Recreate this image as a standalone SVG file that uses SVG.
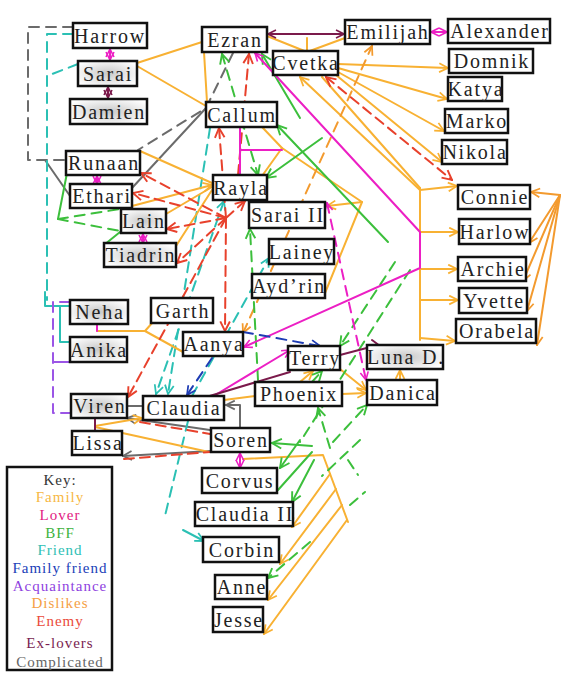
<svg xmlns="http://www.w3.org/2000/svg" width="572" height="680" viewBox="0 0 572 680">
<style>
.n rect{fill:#fff;stroke:#111;stroke-width:2.5}
.n.s rect{fill:url(#shade)}
.n text{font-family:"Liberation Serif","DejaVu Serif",serif;font-size:20px;letter-spacing:1.8px;fill:#222;text-anchor:middle}
#connectors path{fill:none;stroke-width:2;stroke-linecap:round;stroke-linejoin:round}
.or{stroke:#F8B133}
.dl{stroke:#F39A2E}
.rd{stroke:#E8412C;stroke-dasharray:10 6}
.mg{stroke:#EC1FC4}
.mr{stroke:#7B1A4B}
.gr{stroke:#3CBF3C}
.tl{stroke:#2BC0B4}
.bl{stroke:#1E3CB4}
.pu{stroke:#9B55E6}
.gy{stroke:#6B6B6B}
.d{stroke-dasharray:10 7}
.k{font-family:"Liberation Serif","DejaVu Serif",serif;font-size:15px;letter-spacing:1px;text-anchor:middle}
</style>
<defs>
<radialGradient id="shade" cx="0.5" cy="0.5" r="0.6">
<stop offset="0" stop-color="#c8c8c8"/><stop offset="1" stop-color="#fff"/>
</radialGradient>
<marker id="m-or" viewBox="0 0 10 10" refX="9" refY="5" markerWidth="11" markerHeight="11" markerUnits="userSpaceOnUse" orient="auto-start-reverse"><path d="M1,1 L9,5 L1,9" fill="none" stroke="#F8B133" stroke-width="1.6"/></marker>
<marker id="m-dl" viewBox="0 0 10 10" refX="9" refY="5" markerWidth="11" markerHeight="11" markerUnits="userSpaceOnUse" orient="auto-start-reverse"><path d="M1,1 L9,5 L1,9" fill="none" stroke="#F39A2E" stroke-width="1.6"/></marker>
<marker id="m-rd" viewBox="0 0 10 10" refX="9" refY="5" markerWidth="12" markerHeight="12" markerUnits="userSpaceOnUse" orient="auto-start-reverse"><path d="M1,1 L9,5 L1,9" fill="none" stroke="#E8412C" stroke-width="1.6"/></marker>
<marker id="m-mg" viewBox="0 0 10 10" refX="9" refY="5" markerWidth="10" markerHeight="10" markerUnits="userSpaceOnUse" orient="auto-start-reverse"><path d="M1,1 L9,5 L1,9" fill="none" stroke="#EC1FC4" stroke-width="1.6"/></marker>
<marker id="m-mr" viewBox="0 0 10 10" refX="9" refY="5" markerWidth="10" markerHeight="10" markerUnits="userSpaceOnUse" orient="auto-start-reverse"><path d="M1,1 L9,5 L1,9" fill="none" stroke="#7B1A4B" stroke-width="1.6"/></marker>
<marker id="m-gr" viewBox="0 0 10 10" refX="9" refY="5" markerWidth="12" markerHeight="12" markerUnits="userSpaceOnUse" orient="auto-start-reverse"><path d="M1,1 L9,5 L1,9" fill="none" stroke="#3CBF3C" stroke-width="1.6"/></marker>
<marker id="m-tl" viewBox="0 0 10 10" refX="9" refY="5" markerWidth="11" markerHeight="11" markerUnits="userSpaceOnUse" orient="auto-start-reverse"><path d="M1,1 L9,5 L1,9" fill="none" stroke="#2BC0B4" stroke-width="1.6"/></marker>
<marker id="m-bl" viewBox="0 0 10 10" refX="9" refY="5" markerWidth="11" markerHeight="11" markerUnits="userSpaceOnUse" orient="auto-start-reverse"><path d="M1,1 L9,5 L1,9" fill="none" stroke="#1E3CB4" stroke-width="1.6"/></marker>
<marker id="m-gy" viewBox="0 0 10 10" refX="9" refY="5" markerWidth="11" markerHeight="11" markerUnits="userSpaceOnUse" orient="auto-start-reverse"><path d="M1,1 L9,5 L1,9" fill="none" stroke="#6B6B6B" stroke-width="1.6"/></marker>
</defs>
<rect width="572" height="680" fill="#fff"/>
<g id="connectors">
<path class="gy d" d="M73,27 L28,27 L28,160 L66,160" stroke-width="2.5"/>
<path class="gy" d="M45,160 L70,196"/>
<path class="gy d" d="M233,53 L206,108 L138,150"/>
<path class="gy" d="M206,108 L132,188"/>
<path class="gy" d="M127,406 L143,406"/>
<path class="gy" d="M210,430 L127,418" marker-end="url(#m-gy)"/>
<path class="gy" d="M211,451 L123,456" marker-end="url(#m-gy)"/>
<path class="gy" d="M240,428 L240,405 L226,405" marker-end="url(#m-gy)"/>
<path class="tl d" d="M73,34 L47,34 L47,300"/>
<path class="tl d" d="M78,64 L47,76"/>
<path class="tl" d="M45,292 L45,306 L70,306 M60,306 L60,342 L70,342"/>
<path class="tl d" d="M210,128 L168,394" marker-end="url(#m-tl)"/>
<path class="tl d" d="M224,201 L156,394" marker-start="url(#m-tl)" marker-end="url(#m-tl)"/>
<path class="tl d" d="M192,396 L269,258" marker-end="url(#m-tl)"/>
<path class="tl d" d="M188,421 L164,520"/>
<path class="tl" d="M183,530 L204,541" marker-end="url(#m-tl)"/>
<path class="pu d" d="M70,302 L53,302 L53,413 L71,413"/>
<path class="pu" d="M53,362 L70,362"/>
<path class="or" d="M137,63 L202,42"/>
<path class="or" d="M137,66 L206,106"/>
<path class="or" d="M204,52 L207,102"/>
<path class="or" d="M267,36 L307,52 L345,38 M307,38 L307,52"/>
<path class="or" d="M338,64 L448,68" marker-end="url(#m-or)"/>
<path class="or" d="M338,68 L447,99" marker-end="url(#m-or)"/>
<path class="or" d="M338,72 L444,131" marker-end="url(#m-or)"/>
<path class="or" d="M336,75 L442,162" marker-end="url(#m-or)"/>
<path class="or" d="M300,77 L420,190" marker-start="url(#m-or)"/>
<path class="or" d="M322,77 L420,188"/>
<path class="or" d="M420,188 L420,340"/>
<path class="or" d="M420,190 L457,186" marker-end="url(#m-or)"/>
<path class="or" d="M420,232 L458,232" marker-end="url(#m-or)"/>
<path class="or" d="M420,269 L457,269" marker-end="url(#m-or)"/>
<path class="or" d="M420,300 L458,300" marker-end="url(#m-or)"/>
<path class="or" d="M420,338 L455,341" marker-end="url(#m-or)"/>
<path class="or" d="M140,151 L212,183"/>
<path class="or" d="M132,206 L212,185" marker-end="url(#m-or)"/>
<path class="or" d="M166,214 L212,187"/>
<path class="or" d="M176,246 L212,190"/>
<path class="or" d="M262,176 L282,148 L362,202 L327,206" marker-end="url(#m-or)"/>
<path class="or" d="M262,127 L282,148"/>
<path class="or" d="M362,202 L323,298"/>
<path class="or" d="M97,331 L145,331 L153,322 M145,331 L183,352"/>
<path class="or" d="M95,426 L142,418" marker-end="url(#m-or)"/>
<path class="or" d="M95,427 L209,452"/>
<path class="or" d="M224,400 L255,396"/>
<path class="or" d="M342,394 L366,393" marker-end="url(#m-or)"/>
<path class="or" d="M340,369 L366,390" marker-end="url(#m-or)"/>
<path class="or" d="M300,382 L313,371" marker-end="url(#m-or)"/>
<path class="or" d="M400,380 L400,370" marker-end="url(#m-or)"/>
<path class="or" d="M243,459 L323,455 L348,522"/>
<path class="or" d="M330,474 L292,527" marker-end="url(#m-or)"/>
<path class="or" d="M336,489 L280,564" marker-end="url(#m-or)"/>
<path class="or" d="M342,505 L268,600" marker-end="url(#m-or)"/>
<path class="or" d="M347,520 L264,634" marker-end="url(#m-or)"/>
<path class="dl" d="M560,195 L531,192" stroke-width="1.5" marker-end="url(#m-dl)"/>
<path class="dl" d="M560,195 L529,243" stroke-width="1.5" marker-end="url(#m-dl)"/>
<path class="dl" d="M560,195 L523,281" stroke-width="1.5" marker-end="url(#m-dl)"/>
<path class="dl" d="M560,195 L527,311" stroke-width="1.5" marker-end="url(#m-dl)"/>
<path class="dl" d="M560,195 L537,345" stroke-width="1.5" marker-end="url(#m-dl)"/>
<path class="dl d" d="M243,333 L372,46" marker-start="url(#m-dl)" marker-end="url(#m-dl)"/>
<path class="rd" d="M226,218 L141,173" marker-end="url(#m-rd)"/>
<path class="rd" d="M226,218 L133,193" marker-end="url(#m-rd)"/>
<path class="rd" d="M226,218 L167,229" marker-end="url(#m-rd)"/>
<path class="rd" d="M226,218 L177,263" marker-end="url(#m-rd)"/>
<path class="rd" d="M226,218 L219,128" marker-end="url(#m-rd)"/>
<path class="rd" d="M226,218 L245,201" marker-end="url(#m-rd)"/>
<path class="rd" d="M226,218 L225,331" marker-end="url(#m-rd)"/>
<path class="rd" d="M226,218 L128,397" marker-end="url(#m-rd)"/>
<path class="rd" d="M238,175 L249,54" marker-end="url(#m-rd)"/>
<path class="rd" d="M326,77 L452,180" marker-start="url(#m-rd)" marker-end="url(#m-rd)"/>
<path class="rd" d="M140,422 L210,434"/>
<path class="rd" d="M124,459 L210,452"/>
<path class="gr" d="M67,173 L58,219"/>
<path class="gr d" d="M58,219 L120,209 M58,219 L120,231"/>
<path class="gr" d="M120,232 L104,245"/>
<path class="gr d" d="M222,54 L258,175" marker-start="url(#m-gr)" marker-end="url(#m-gr)"/>
<path class="gr" d="M262,54 L300,118" marker-start="url(#m-gr)"/>
<path class="gr" d="M388,242 L277,125" marker-end="url(#m-gr)"/>
<path class="gr" d="M322,138 L266,178" marker-end="url(#m-gr)" stroke="#45E045"/>
<path class="gr d" d="M258,380 L250,229" marker-end="url(#m-gr)"/>
<path class="gr d" d="M395,262 L340,346" marker-end="url(#m-gr)"/>
<path class="gr d" d="M410,270 L300,442"/>
<path class="gr d" d="M330,448 L318,408" marker-end="url(#m-gr)"/>
<path class="gr d" d="M333,442 L367,405" marker-end="url(#m-gr)"/>
<path class="gr d" d="M300,395 L322,371" marker-end="url(#m-gr)"/>
<path class="gr" d="M312,446 L272,443" marker-end="url(#m-gr)"/>
<path class="gr" d="M312,452 L278,490" stroke="#45E045"/>
<path class="gr" d="M300,440 L280,468" marker-end="url(#m-gr)"/>
<path class="gr" d="M314,460 L292,502" marker-end="url(#m-gr)"/>
<path class="gr d" d="M360,440 L322,476"/>
<path class="gr d" d="M348,460 L358,475 M350,505 L365,492"/>
<path class="gr d" d="M310,542 L268,578" marker-end="url(#m-gr)"/>
<path class="mg" d="M110,49 L110,60" marker-start="url(#m-mg)" marker-end="url(#m-mg)"/>
<path class="mg" d="M97,176 L97,184" marker-start="url(#m-mg)" marker-end="url(#m-mg)"/>
<path class="mg" d="M143,234 L143,243" marker-start="url(#m-mg)" marker-end="url(#m-mg)"/>
<path class="mg" d="M97,324 L97,331"/>
<path class="mg" d="M240,453 L240,468" marker-start="url(#m-mg)" marker-end="url(#m-mg)"/>
<path class="mg" d="M431,32 L447,32" marker-start="url(#m-mg)" marker-end="url(#m-mg)"/>
<path class="mg" d="M255,53 L420,232 L420,268 L244,347" marker-start="url(#m-mg)" marker-end="url(#m-mg)"/>
<path class="mg" d="M240,128 L240,175 M240,150 L282,150"/>
<path class="mg d" d="M327,203 L366,380" marker-start="url(#m-mg)" marker-end="url(#m-mg)"/>
<path class="mg" d="M212,397 L290,350" marker-end="url(#m-mg)"/>
<path class="mr" d="M268,34 L344,34" marker-start="url(#m-mr)" marker-end="url(#m-mr)"/>
<path class="mr" d="M108,87 L108,98" marker-start="url(#m-mr)" marker-end="url(#m-mr)"/>
<path class="mr" d="M95,418 L95,431"/>
<path class="mr" d="M203,398 L290,372 M340,355 L378,345 M372,340 L384,349"/>
<path class="bl d" d="M243,332 L320,346" marker-end="url(#m-bl)"/>
<path class="bl d" d="M212,358 L187,395" marker-end="url(#m-bl)"/>
</g>
<g id="node-harrow" class="n"><rect x="73" y="23" width="74" height="25"/><text x="110" y="42.5">Harrow</text></g>
<g id="node-sarai" class="n s"><rect x="78" y="61" width="59" height="25"/><text x="108" y="80.5">Sarai</text></g>
<g id="node-damien" class="n s"><rect x="70" y="99" width="77" height="25"/><text x="109" y="118.5">Damien</text></g>
<g id="node-ezran" class="n"><rect x="202" y="27" width="65" height="25"/><text x="235" y="46.5">Ezran</text></g>
<g id="node-cvetka" class="n"><rect x="273" y="51" width="65" height="24"/><text x="306" y="70">Cvetka</text></g>
<g id="node-emilijah" class="n"><rect x="345" y="20" width="85" height="24"/><text x="388" y="39">Emilijah</text></g>
<g id="node-alexander" class="n"><rect x="448" y="19" width="102" height="24"/><text x="500" y="38">Alexander</text></g>
<g id="node-domnik" class="n"><rect x="449" y="49" width="84" height="24"/><text x="492" y="68">Domnik</text></g>
<g id="node-katya" class="n"><rect x="448" y="77" width="54" height="24"/><text x="476" y="96">Katya</text></g>
<g id="node-marko" class="n"><rect x="445" y="109" width="63" height="24"/><text x="477" y="128">Marko</text></g>
<g id="node-nikola" class="n"><rect x="442" y="140" width="65" height="24"/><text x="475" y="159">Nikola</text></g>
<g id="node-callum" class="n"><rect x="206" y="102" width="71" height="25"/><text x="242" y="121.5">Callum</text></g>
<g id="node-runaan" class="n"><rect x="66" y="151" width="74" height="24"/><text x="104" y="170">Runaan</text></g>
<g id="node-ethari" class="n"><rect x="70" y="184" width="62" height="24"/><text x="102" y="203">Ethari</text></g>
<g id="node-lain" class="n s"><rect x="121" y="209" width="45" height="24"/><text x="144" y="228">Lain</text></g>
<g id="node-tiadrin" class="n s"><rect x="104" y="243" width="72" height="24"/><text x="141" y="262">Tiadrin</text></g>
<g id="node-rayla" class="n"><rect x="213" y="175" width="54" height="25"/><text x="241" y="194.5">Rayla</text></g>
<g id="node-sarai-ii" class="n"><rect x="249" y="202" width="76" height="26"/><text x="288" y="222">Sarai II</text></g>
<g id="node-lainey" class="n"><rect x="269" y="239" width="65" height="25"/><text x="302" y="258.5">Lainey</text></g>
<g id="node-aydrin" class="n"><rect x="252" y="274" width="73" height="24"/><text x="289" y="293">Ayd’rin</text></g>
<g id="node-connie" class="n"><rect x="458" y="185" width="72" height="24"/><text x="495" y="204">Connie</text></g>
<g id="node-harlow" class="n"><rect x="459" y="219" width="71" height="25"/><text x="495" y="238.5">Harlow</text></g>
<g id="node-archie" class="n"><rect x="458" y="257" width="68" height="24"/><text x="493" y="276">Archie</text></g>
<g id="node-yvette" class="n"><rect x="459" y="288" width="68" height="25"/><text x="494" y="307.5">Yvette</text></g>
<g id="node-orabela" class="n"><rect x="456" y="319" width="80" height="24"/><text x="497" y="338">Orabela</text></g>
<g id="node-neha" class="n s"><rect x="70" y="300" width="58" height="24"/><text x="100" y="319">Neha</text></g>
<g id="node-anika" class="n s"><rect x="70" y="337" width="57" height="25"/><text x="99" y="356.5">Anika</text></g>
<g id="node-garth" class="n"><rect x="151" y="298" width="62" height="25"/><text x="183" y="317.5">Garth</text></g>
<g id="node-aanya" class="n"><rect x="183" y="332" width="60" height="24"/><text x="214" y="351">Aanya</text></g>
<g id="node-viren" class="n s"><rect x="71" y="394" width="56" height="24"/><text x="100" y="413">Viren</text></g>
<g id="node-claudia" class="n"><rect x="143" y="396" width="81" height="24"/><text x="184" y="415">Claudia</text></g>
<g id="node-lissa" class="n"><rect x="72" y="431" width="50" height="24"/><text x="98" y="450">Lissa</text></g>
<g id="node-terry" class="n"><rect x="288" y="346" width="52" height="24"/><text x="315" y="365">Terry</text></g>
<g id="node-phoenix" class="n"><rect x="255" y="382" width="87" height="24"/><text x="299" y="401">Phoenix</text></g>
<g id="node-luna-d" class="n s"><rect x="367" y="345" width="76" height="24"/><text x="406" y="364">Luna D.</text></g>
<g id="node-danica" class="n"><rect x="367" y="380" width="70" height="25"/><text x="403" y="399.5">Danica</text></g>
<g id="node-soren" class="n"><rect x="211" y="428" width="59" height="24"/><text x="241" y="447">Soren</text></g>
<g id="node-corvus" class="n"><rect x="202" y="468" width="75" height="25"/><text x="240" y="487.5">Corvus</text></g>
<g id="node-claudia-ii" class="n"><rect x="195" y="502" width="98" height="24"/><text x="245" y="521">Claudia II</text></g>
<g id="node-corbin" class="n"><rect x="203" y="537" width="76" height="25"/><text x="242" y="556.5">Corbin</text></g>
<g id="node-anne" class="n"><rect x="215" y="575" width="52" height="24"/><text x="242" y="594">Anne</text></g>
<g id="node-jesse" class="n"><rect x="213" y="607" width="50" height="25"/><text x="239" y="626.5">Jesse</text></g>
<g id="key">
<rect x="7" y="467" width="105" height="203" fill="#fff" stroke="#111" stroke-width="2.5"/>
<text class="k" x="60" y="485" fill="#333">Key:</text>
<text class="k" x="60" y="502" fill="#F7B844">Family</text>
<text class="k" x="60" y="520" fill="#E2197F">Lover</text>
<text class="k" x="60" y="538" fill="#3DB33D">BFF</text>
<text class="k" x="60" y="555" fill="#2EC0B5">Friend</text>
<text class="k" x="60" y="573" fill="#2040B8">Family friend</text>
<text class="k" x="60" y="591" fill="#8E3FE0">Acquaintance</text>
<text class="k" x="60" y="608" fill="#F5A045">Dislikes</text>
<text class="k" x="60" y="626" fill="#EA4A3A">Enemy</text>
<text class="k" x="60" y="648" fill="#7A1E50">Ex-lovers</text>
<text class="k" x="60" y="667" fill="#666">Complicated</text>
</g>
</svg>
